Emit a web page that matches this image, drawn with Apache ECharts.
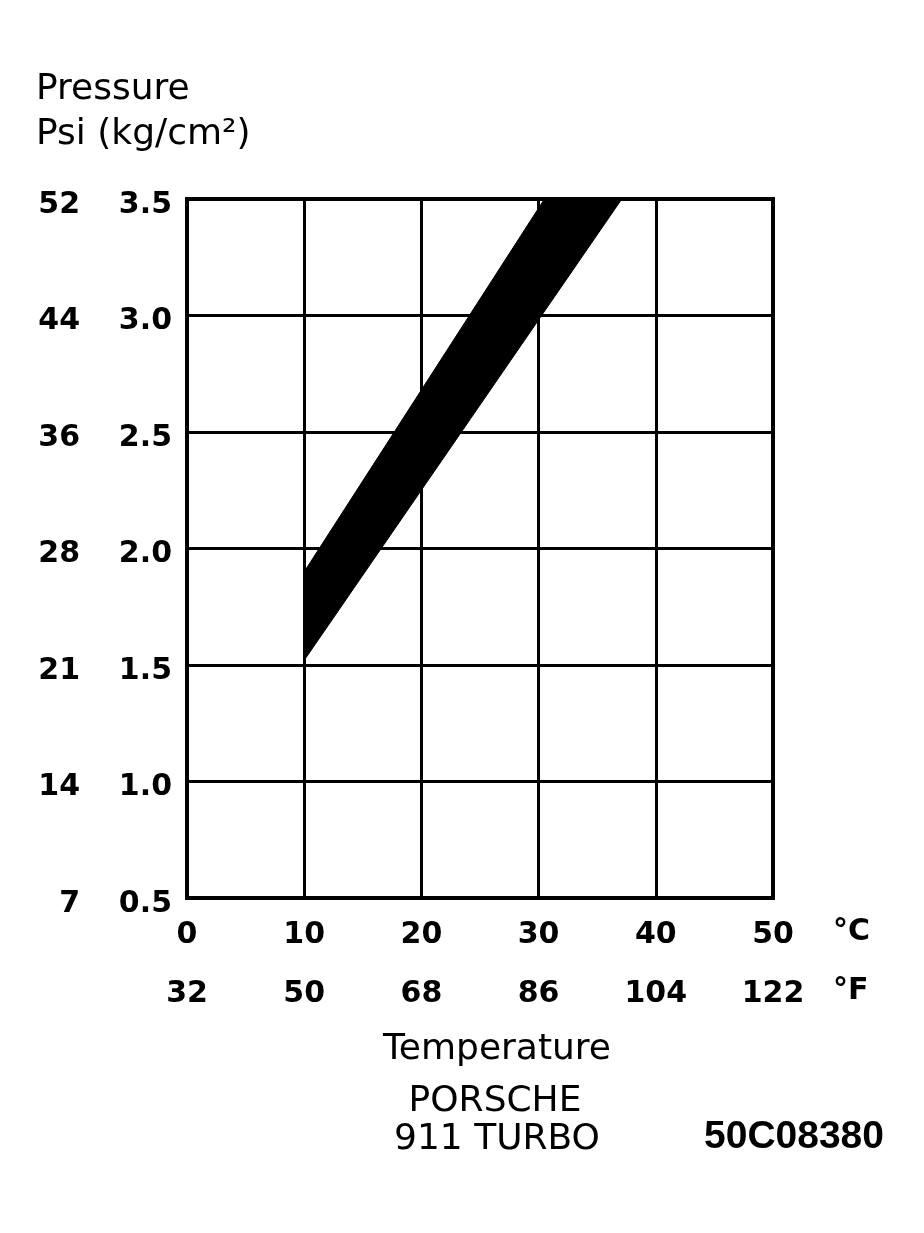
<!DOCTYPE html>
<html>
<head>
<meta charset="utf-8">
<script src="https://cdn.jsdelivr.net/npm/echarts@6/dist/echarts.min.js"></script>
<style>
html,body{margin:0;padding:0;background:#fff;}
#chart{width:924px;height:1233px;}
</style>
</head>
<body>
<div id="chart"></div>
<script>
// ---- data ----
var celsiusTicks = [0, 10, 20, 30, 40, 50];
var fahrenheitLabels = ['32', '50', '68', '86', '104', '122'];
var kgTicks = [0.5, 1.0, 1.5, 2.0, 2.5, 3.0, 3.5];
var psiLabels = ['7', '14', '21', '28', '36', '44', '52'];
// band polygon vertices (temperature °C, pressure kg/cm²)
var bandTemps = [10, 10, 30.5, 37.1];
var bandPressures = [1.52, 1.9, 3.5, 3.5];

var chart = echarts.init(document.getElementById('chart'), null, {renderer: 'canvas'});

function idxOf(arr, v) {
  for (var i = 0; i < arr.length; i++) { if (Math.abs(arr[i] - v) < 1e-6) return i; }
  return -1;
}

var tickFont = {fontFamily: 'DejaVu Sans', fontWeight: 'bold', fontSize: 30, color: '#000'};
var yRich = {d: {fontFamily: 'DejaVu Sans', fontWeight: 'bold', fontSize: 30, color: '#000', padding: [12, 0, 0, 0]}};

var option = {
  backgroundColor: '#fff',
  animation: false,
  grid: {left: 187, right: 151, top: 199, bottom: 335, show: true, borderColor: '#000', borderWidth: 4, backgroundColor: 'transparent', containLabel: false},
  xAxis: [
    {
      type: 'value', min: 0, max: 50, interval: 10, position: 'bottom',
      axisLine: {show: false}, axisTick: {show: false},
      splitLine: {show: true, lineStyle: {color: '#000', width: 3}},
      axisLabel: Object.assign({margin: 22, formatter: function (v) { return String(v); }}, tickFont)
    },
    {
      type: 'value', min: 0, max: 50, interval: 10, position: 'bottom', offset: 59,
      axisLine: {show: false}, axisTick: {show: false}, splitLine: {show: false},
      axisLabel: Object.assign({margin: 22, formatter: function (v) {
        var i = idxOf(celsiusTicks, v); return i >= 0 ? fahrenheitLabels[i] : '';
      }}, tickFont)
    }
  ],
  yAxis: [
    {
      type: 'value', min: 0.5, max: 3.5, interval: 0.5, position: 'left',
      axisLine: {show: false}, axisTick: {show: false},
      splitLine: {show: true, lineStyle: {color: '#000', width: 3}},
      axisLabel: {margin: 15, rich: yRich, formatter: function (v) { return '{d|' + v.toFixed(1) + '}'; }}
    },
    {
      type: 'value', min: 0.5, max: 3.5, interval: 0.5, position: 'left', offset: 92,
      axisLine: {show: false}, axisTick: {show: false}, splitLine: {show: false},
      axisLabel: {margin: 15, rich: yRich, formatter: function (v) {
        var i = idxOf(kgTicks, v); return i >= 0 ? '{d|' + psiLabels[i] + '}' : '';
      }}
    }
  ],
  series: [
    {
      type: 'custom',
      xAxisIndex: 0, yAxisIndex: 0,
      data: [[bandTemps[0], bandPressures[0]]],
      renderItem: function (params, api) {
        var pts = [];
        for (var i = 0; i < bandTemps.length; i++) {
          pts.push(api.coord([bandTemps[i], bandPressures[i]]));
        }
        return {type: 'polygon', shape: {points: pts}, style: {fill: '#000', stroke: '#000', lineWidth: 1}};
      },
      z: 3
    }
  ],
  graphic: [
    {type: 'text', left: 36, top: 72, style: {text: 'Pressure', fontFamily: 'DejaVu Sans', fontSize: 36, fill: '#000'}},
    {type: 'text', left: 36, top: 117, style: {text: 'Psi (kg/cm²)', fontFamily: 'DejaVu Sans', fontSize: 36, fill: '#000'}},
    {type: 'text', left: 833, top: 917, style: {text: '°C', fontFamily: 'DejaVu Sans', fontWeight: 'bold', fontSize: 30, fill: '#000'}},
    {type: 'text', left: 833, top: 976, style: {text: '°F', fontFamily: 'DejaVu Sans', fontWeight: 'bold', fontSize: 30, fill: '#000'}},
    {type: 'text', x: 497, y: 1050, style: {text: 'Temperature', fontFamily: 'DejaVu Sans', fontSize: 36, fill: '#000', align: 'center', verticalAlign: 'middle'}},
    {type: 'text', x: 495, y: 1102, style: {text: 'PORSCHE', fontFamily: 'DejaVu Sans', fontSize: 36, fill: '#000', align: 'center', verticalAlign: 'middle'}},
    {type: 'text', x: 497, y: 1140, style: {text: '911 TURBO', fontFamily: 'DejaVu Sans', fontSize: 36, fill: '#000', align: 'center', verticalAlign: 'middle'}},
    {type: 'text', x: 794, y: 1137, style: {text: '50C08380', fontFamily: 'Liberation Sans', fontWeight: 'bold', fontSize: 39, fill: '#000', align: 'center', verticalAlign: 'middle'}}
  ]
};
chart.setOption(option);
</script>
</body>
</html>
